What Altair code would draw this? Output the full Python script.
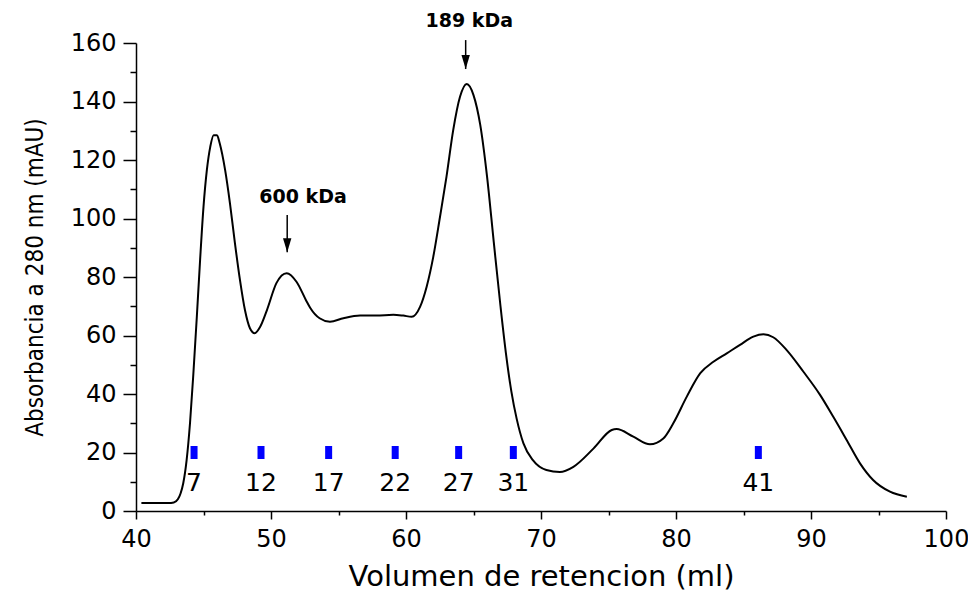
import altair as alt
import pandas as pd

# Chromatogram trace (retention volume ml, absorbance mAU)
vol = [40.4, 41.5, 42.4, 42.8, 43.1, 43.3, 43.5, 43.75, 44.0, 44.25, 44.5, 44.75, 45.0,
       45.25, 45.5, 45.75, 46.0, 46.2, 46.6, 46.96, 47.33, 47.7, 48.07, 48.44, 48.8,
       49.2, 49.7, 50.4, 51.16, 51.9, 52.6, 52.9, 53.6, 54.37, 55.36, 56.6, 57.8,
       59.06, 59.8, 60.42, 61.04, 61.53, 62.02, 62.52, 63.0, 63.5, 64.0, 64.5, 65.0,
       65.5, 66.0, 66.5, 67.0, 67.4, 67.8, 68.2, 68.7, 69.4, 70.4, 71.4, 72.4,
       73.9, 75.24, 75.6, 76.84, 78.07, 79.06, 79.8, 80.8, 81.8, 82.77, 83.76, 84.74,
       85.73, 86.48, 87.2, 88.2, 89.44, 90.67, 91.65, 92.64, 93.63, 94.6, 95.85, 97.1]
absorb = [2.7, 2.7, 2.7, 2.9, 4.0, 6.0, 9.5, 17.4, 30.0, 47.0, 66.0, 86.0, 104.0,
          116.6, 124.5, 128.5, 128.5, 125.7, 116.6, 105.2, 91.5, 79.0, 68.7, 62.5, 60.8,
          63.0, 68.7, 77.9, 81.3, 78.3, 72.0, 69.5, 65.9, 64.7, 65.9, 66.8, 66.8,
          67.1, 66.8, 66.4, 69.8, 76.7, 86.9, 100.6, 114.3, 130.3, 141.6, 146.0, 142.2,
          132.0, 114.5, 92.0, 70.0, 54.0, 41.0, 31.5, 23.1, 17.4, 14.0, 13.3, 15.1,
          21.4, 27.7, 28.0, 25.4, 22.8, 24.8, 30.0, 39.1, 47.1, 51.0, 53.9, 56.8,
          59.6, 60.4, 59.4, 55.0, 47.6, 39.7, 32.2, 24.3, 16.3, 10.6, 6.6, 4.9]

# Collected fractions
frac_labels = ["7", "12", "17", "22", "27", "31", "41"]
frac_vol = [44.3, 49.26, 54.27, 59.2, 63.9, 67.95, 86.1]
frac_level = [20, 20, 20, 20, 20, 20, 20]

# Molecular-weight annotations
ann_text = ["600 kDa", "189 kDa"]
ann_text_x = [52.37, 64.69]
ann_text_y = [107.5, 167.5]
arrow_x = [51.2, 64.42]
arrow_top = [101.2, 161.0]
arrow_tip = [88.5, 151.1]

x_major = [40, 50, 60, 70, 80, 90, 100]
x_minor = [45, 55, 65, 75, 85, 95]
y_major = [0, 20, 40, 60, 80, 100, 120, 140, 160]
y_minor = [10, 30, 50, 70, 90, 110, 130, 150]

trace = pd.DataFrame({"x": vol, "y": absorb})
fr = pd.DataFrame({"x": frac_vol, "y": frac_level, "label": frac_labels})
ann = pd.DataFrame({"text": ann_text, "tx": ann_text_x, "ty": ann_text_y,
                    "ax": arrow_x, "atop": arrow_top, "atip": arrow_tip})

xs = alt.Scale(domain=[40, 100], nice=False, zero=False)
ys = alt.Scale(domain=[0, 160], nice=False, zero=False)

common_axis = dict(domainColor="black", tickColor="black", labelColor="black",
                   titleColor="black", grid=False)

x_axis_major = alt.Axis(values=x_major, tickSize=8, tickWidth=1.5, domainWidth=1.5,
                        labelFont="DejaVu Sans", labelFontSize=24, labelPadding=8,
                        labelFlush=False, labelOverlap=False, format="d",
                        title="Volumen de retencion (ml)", titleFont="DejaVu Sans",
                        titleFontSize=29, titleFontWeight="normal",
                        titleX=405, titleY=74, titleBaseline="alphabetic",
                        orient="bottom", **common_axis)
y_axis_major = alt.Axis(values=y_major, tickSize=13, tickWidth=1.5, domainWidth=1.5,
                        labelFont="DejaVu Sans", labelFontSize=24, labelPadding=7,
                        labelFlush=False, labelOverlap=False, format="d",
                        title="Absorbancia a 280 nm (mAU)",
                        titleFont="DejaVu Sans Condensed, Liberation Sans, Arial, sans-serif",
                        titleFontSize=24,
                        titleFontWeight="normal", titleAngle=270,
                        titleX=-94, titleY=234, titleBaseline="alphabetic",
                        orient="left", **common_axis)
x_axis_minor = alt.Axis(values=x_minor, tickSize=4, tickWidth=1.5, labels=False,
                        domain=False, title=None, orient="bottom", grid=False,
                        tickColor="black")
y_axis_minor = alt.Axis(values=y_minor, tickSize=6, tickWidth=1.5, labels=False,
                        domain=False, title=None, orient="left", grid=False,
                        tickColor="black")

line = alt.Chart(trace).mark_line(color="black", strokeWidth=2, interpolate="monotone",
                                  strokeJoin="round").encode(
    x=alt.X("x:Q", scale=xs, axis=x_axis_major),
    y=alt.Y("y:Q", scale=ys, axis=y_axis_major),
)

markers = alt.Chart(fr).mark_tick(color="#0000FF", thickness=7, size=13,
                                  orient="vertical", opacity=1).encode(
    x=alt.X("x:Q", scale=xs, axis=x_axis_minor),
    y=alt.Y("y:Q", scale=ys, axis=y_axis_minor),
)

labels = alt.Chart(fr).mark_text(font="DejaVu Sans", fontSize=25, color="black",
                                 baseline="middle", align="center", dy=30).encode(
    x=alt.X("x:Q", scale=xs, axis=None),
    y=alt.Y("y:Q", scale=ys, axis=None),
    text="label:N",
)

ann_txt = alt.Chart(ann).mark_text(font="DejaVu Sans", fontSize=19, fontWeight="bold",
                                   color="black", baseline="middle", align="center").encode(
    x=alt.X("tx:Q", scale=xs, axis=None),
    y=alt.Y("ty:Q", scale=ys, axis=None),
    text="text:N",
)

shaft = alt.Chart(ann).mark_rule(color="black", strokeWidth=1.5).encode(
    x=alt.X("ax:Q", scale=xs, axis=None),
    y=alt.Y("atop:Q", scale=ys, axis=None),
    y2="atip:Q",
)

head = alt.Chart(ann).mark_point(shape="M-0.6,-2L0.6,-2L0,0Z", size=196, filled=True,
                                 color="black", opacity=1, strokeWidth=0).encode(
    x=alt.X("ax:Q", scale=xs, axis=None),
    y=alt.Y("atip:Q", scale=ys, axis=None),
)

chart = alt.layer(line, markers, labels, shaft, head, ann_txt).resolve_axis(
    x="independent", y="independent"
).properties(
    width=810, height=468,
    autosize=alt.AutoSizeParams(type="none"),
    padding={"left": 128, "top": 35, "right": 22, "bottom": 82},
    background="white",
).configure_view(stroke=None)

chart.save("out.html", embed_options={"renderer": "svg", "actions": False})
